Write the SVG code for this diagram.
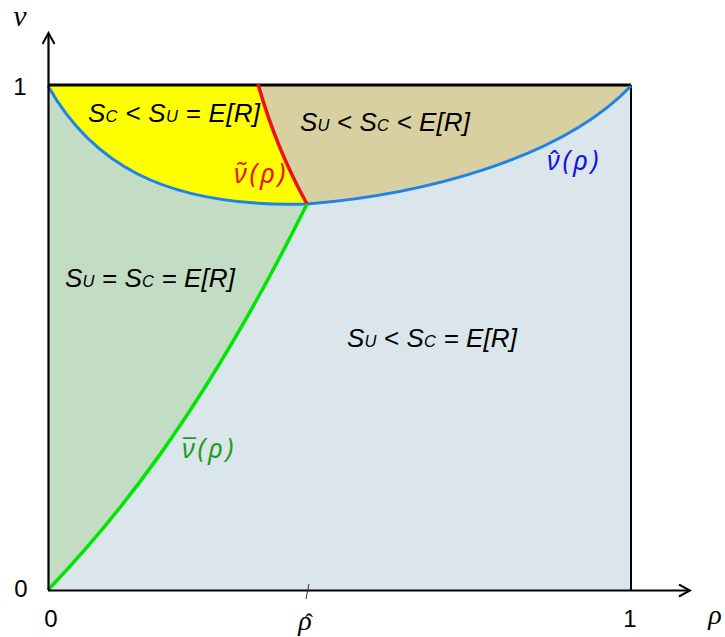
<svg xmlns="http://www.w3.org/2000/svg" width="725" height="637" viewBox="0 0 725 637">
<style>
.lbl{font-family:"Liberation Sans",Arial,sans-serif;font-style:italic;font-size:26px;fill:#000}
.sub{font-size:16.5px}
.ax{font-family:"Liberation Sans",Arial,sans-serif;font-size:24px;fill:#000;text-anchor:middle}
.var{font-family:"Liberation Serif","Times New Roman",serif;font-style:italic;font-size:28px;fill:#000;text-anchor:middle}
.fn{font-family:"Noto Sans","DejaVu Sans",sans-serif;font-style:italic;font-size:27px;letter-spacing:2.7px}
.acc{font-style:normal;font-size:26px;letter-spacing:0}
.axis{stroke:#000;stroke-width:2.2;fill:none}
</style>
<defs>
<marker id="arr" viewBox="0 0 14 14" refX="12" refY="7" markerWidth="14" markerHeight="14" markerUnits="userSpaceOnUse" orient="auto">
<path d="M1,1 L12,7 L1,13" fill="none" stroke="#000" stroke-width="2"/>
</marker>
</defs>
<g id="regions">
<rect id="region-lightblue" x="48" y="85" width="583" height="505" fill="#DAE5EC"/>
<path id="region-tan" d="M258,85 L631,85 L631,86 C560,160 420,195 307,204 Q276,148 258,85 Z" fill="#D8D0A0"/>
<path id="region-yellow" d="M48,85 L258,85 Q276,148 307,204 C160,208 90,160 48,86 Z" fill="#FFFF00"/>
<path id="region-green" d="M48,86 C90,160 160,208 307,204 C200,420 110,525 48,590 Z" fill="#C2DDC3"/>
</g>
<g id="connectors">
<line x1="631" y1="85" x2="631" y2="590" stroke="#000" stroke-width="2"/>
<line x1="48" y1="85" x2="631" y2="85" stroke="#000" stroke-width="3.2"/>
<path id="curve-hat" d="M48,86 C90,160 160,208 307,204 C420,195 560,160 631,86" fill="none" stroke="#1E84E6" stroke-width="3"/>
<path id="curve-tilde" d="M258,84 Q276,148 307,204" fill="none" stroke="#F01010" stroke-width="3.5"/>
<path id="curve-bar" d="M48,590 C110,525 200,420 307,204" fill="none" stroke="#00E600" stroke-width="3.5"/>
<line class="axis" x1="48.5" y1="590" x2="48.5" y2="33" marker-end="url(#arr)"/>
<line class="axis" x1="48" y1="590.5" x2="690" y2="590.5" marker-end="url(#arr)"/>
<line x1="309" y1="584" x2="306" y2="599" stroke="#333" stroke-width="1"/>
</g>
<g id="labels">
<text class="lbl" x="88" y="122" textLength="172">S<tspan class="sub">C</tspan> &lt; S<tspan class="sub">U</tspan> = E[R]</text>
<text class="lbl" x="300" y="131" textLength="170">S<tspan class="sub">U</tspan> &lt; S<tspan class="sub">C</tspan> &lt; E[R]</text>
<text class="lbl" x="65" y="287" textLength="170">S<tspan class="sub">U</tspan> = S<tspan class="sub">C</tspan> = E[R]</text>
<text class="lbl" x="347" y="347" textLength="170">S<tspan class="sub">U</tspan> &lt; S<tspan class="sub">C</tspan> = E[R]</text>
<text id="label-tilde" class="fn" fill="#F01010" x="234" y="183">ν(ρ)<tspan class="acc" x="236" y="181">˜</tspan></text>
<text id="label-hat" class="fn" fill="#1414E0" x="547" y="170">ν(ρ)<tspan class="acc" x="549" y="170">ˆ</tspan></text>
<text id="label-bar" class="fn" fill="#1E9E1E" x="182" y="458">ν(ρ)<tspan class="acc" x="183" y="458">¯</tspan></text>
<text class="ax" x="20" y="95">1</text>
<text class="ax" x="21" y="597">0</text>
<text class="ax" x="51" y="627">0</text>
<text class="ax" x="630" y="627">1</text>
<text class="var" x="20" y="26" style="font-size:30px">ν</text>
<text class="var" x="715" y="624">ρ</text>
<text class="var" x="305" y="630">ρ<tspan x="309" y="630" style="font-style:normal;font-size:24px">ˆ</tspan></text>
</g>
</svg>
